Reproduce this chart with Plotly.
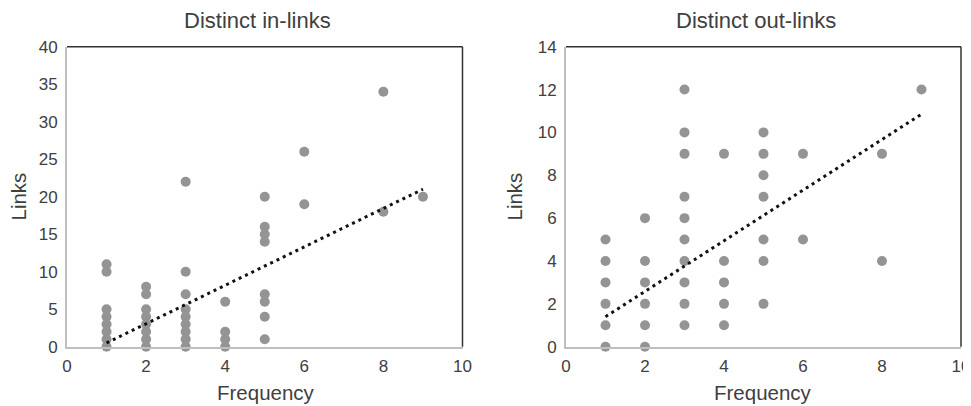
import plotly.graph_objects as go

# ---- Data: Distinct in-links ----
in_freq = [1]*8 + [2]*8 + [3]*9 + [4]*4 + [5]*8 + [6]*2 + [8]*2 + [9]
in_links = [11, 10, 5, 4, 3, 2, 1, 0,
            8, 7, 5, 4, 3, 2, 1, 0,
            22, 10, 7, 5, 4, 3, 2, 1, 0,
            6, 2, 1, 0,
            20, 16, 15, 14, 7, 6, 4, 1,
            26, 19,
            34, 18,
            20]
in_trend_x = [1, 9]
in_trend_y = [0.5, 21.0]

# ---- Data: Distinct out-links ----
out_freq = [1]*6 + [2]*6 + [3]*10 + [4]*5 + [5]*7 + [6]*2 + [8]*2 + [9]
out_links = [5, 4, 3, 2, 1, 0,
             6, 4, 3, 2, 1, 0,
             12, 10, 9, 7, 6, 5, 4, 3, 2, 1,
             9, 4, 3, 2, 1,
             10, 9, 8, 7, 5, 4, 2,
             9, 5,
             9, 4,
             12]
out_trend_x = [1, 9]
out_trend_y = [1.4, 10.85]

titles = ["Distinct in-links", "Distinct out-links"]
x_title = "Frequency"
y_title = "Links"

W, H = 971, 406
OFF = 8  # page body margin offset
FONT = "Liberation Sans, Arial, sans-serif"
TXT = "#404040"
MARK = "#949494"

fig = go.Figure()

fig.add_trace(go.Scatter(x=in_freq, y=in_links, mode="markers",
                         marker=dict(color=MARK, size=10),
                         cliponaxis=False, xaxis="x", yaxis="y", showlegend=False))
fig.add_trace(go.Scatter(x=in_trend_x, y=in_trend_y, mode="lines",
                         line=dict(color="#111111", width=3, dash="3px,4px"),
                         xaxis="x", yaxis="y", showlegend=False))
fig.add_trace(go.Scatter(x=out_freq, y=out_links, mode="markers",
                         marker=dict(color=MARK, size=10),
                         cliponaxis=False, xaxis="x2", yaxis="y2", showlegend=False))
fig.add_trace(go.Scatter(x=out_trend_x, y=out_trend_y, mode="lines",
                         line=dict(color="#111111", width=3, dash="3px,4px"),
                         xaxis="x2", yaxis="y2", showlegend=False))

L1, R1 = 67, 462.5
L2, R2 = 566, 961
T, B = 46.7, 346.7
px = lambda v: (v - OFF) / W
py = lambda v: 1 - (v - OFF) / H

axis_common = dict(showgrid=False, zeroline=False, showline=True, automargin=False,
                   linecolor="#bfbfbf", linewidth=2, ticks="",
                   tickfont=dict(family=FONT, size=17, color=TXT))

fig.update_layout(
    width=W, height=H,
    margin=dict(l=0, r=0, t=0, b=0, pad=0, autoexpand=False),
    paper_bgcolor="white", plot_bgcolor="white",
    xaxis=dict(domain=[px(L1), px(R1)], range=[0, 10], dtick=2,
               anchor="y", ticklabelstandoff=3, **axis_common),
    yaxis=dict(domain=[py(B), py(T)], range=[0, 40], dtick=5,
               anchor="x", ticklabelstandoff=4, **axis_common),
    xaxis2=dict(domain=[px(L2), px(R2)], range=[0, 10], dtick=2,
                anchor="y2", ticklabelstandoff=3, **axis_common),
    yaxis2=dict(domain=[py(B), py(T)], range=[0, 14], dtick=2,
                anchor="x2", ticklabelstandoff=4, **axis_common),
)

# Dark top and right borders of plot areas
for (l, r) in [(L1, R1), (L2, R2)]:
    fig.add_shape(type="line", xref="paper", yref="paper",
                  x0=px(l), x1=px(r), y0=py(T), y1=py(T),
                  line=dict(color="#333333", width=1.5))
    fig.add_shape(type="line", xref="paper", yref="paper",
                  x0=px(r), x1=px(r), y0=py(T), y1=py(B),
                  line=dict(color="#333333", width=1.5))

# Titles and axis titles
for cx, t in [(257, titles[0]), (756, titles[1])]:
    fig.add_annotation(text=t, xref="paper", yref="paper", x=px(cx), y=py(20.5),
                       xanchor="center", yanchor="middle", showarrow=False,
                       font=dict(family=FONT, size=22, color=TXT))
for cx in [265.5, 763]:
    fig.add_annotation(text=x_title, xref="paper", yref="paper", x=px(cx), y=py(392.5),
                       xanchor="center", yanchor="middle", showarrow=False,
                       font=dict(family=FONT, size=20.5, color=TXT))
for cx in [18, 514]:
    fig.add_annotation(text=y_title, xref="paper", yref="paper", x=px(cx), y=py(196.5),
                       xanchor="center", yanchor="middle", showarrow=False, textangle=-90,
                       font=dict(family=FONT, size=20.5, color=TXT))

fig.write_html("out.html")
